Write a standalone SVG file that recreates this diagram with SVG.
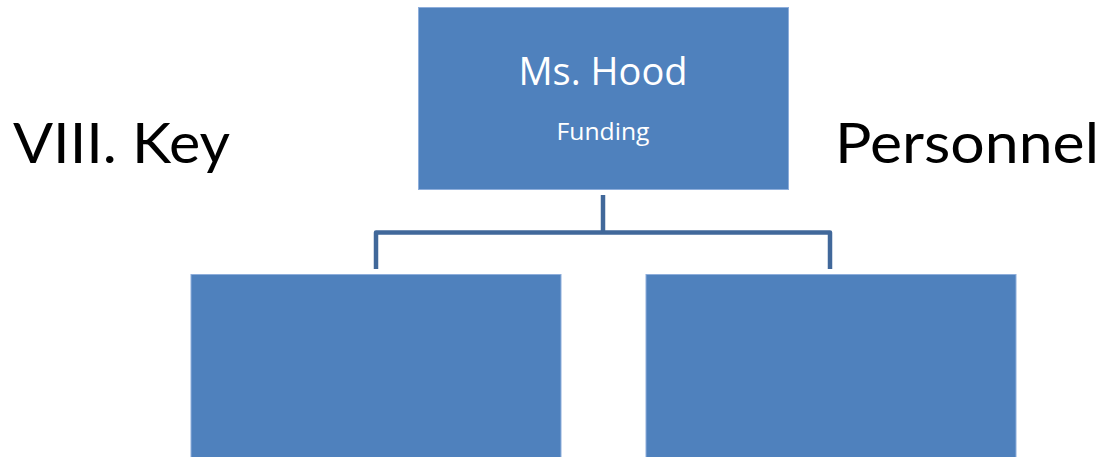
<svg xmlns="http://www.w3.org/2000/svg" width="1112" height="457" viewBox="0 0 1112 457">
  <style>
    .box { fill: #4f81bd; stroke: #8eaedb; stroke-width: 1; }
    .conn { fill: none; stroke: #41689a; stroke-width: 4.5; stroke-linejoin: round; }
    .title { font-family: "Lato", "DejaVu Sans", sans-serif; font-size: 56px; fill: #000000; }
    .name { font-family: "Open Sans", "Noto Sans", sans-serif; font-size: 38px; fill: #ffffff; text-anchor: middle; }
    .role { font-family: "Open Sans", "Noto Sans", sans-serif; font-size: 24px; fill: #ffffff; text-anchor: middle; }
  </style>
  <rect width="1112" height="457" fill="#ffffff"/>
  <text class="title" x="13" y="163" textLength="217" lengthAdjust="spacingAndGlyphs">VIII. Key</text>
  <text class="title" x="835" y="163" textLength="264" lengthAdjust="spacingAndGlyphs">Personnel</text>
  <g id="connectors">
    <path class="conn" d="M603,195 V232.5"/>
    <path class="conn" d="M376,269 V232.5 H830 V269"/>
  </g>
  <g id="node-top">
    <rect class="box" x="418.5" y="7.5" width="370" height="182"/>
    <text class="name" x="603" y="85">Ms. Hood</text>
    <text class="role" x="603" y="139.5" textLength="93" lengthAdjust="spacingAndGlyphs">Funding</text>
  </g>
  <g id="node-left">
    <rect class="box" x="191" y="274.5" width="370" height="190"/>
  </g>
  <g id="node-right">
    <rect class="box" x="646" y="274.5" width="370" height="190"/>
  </g>
</svg>
